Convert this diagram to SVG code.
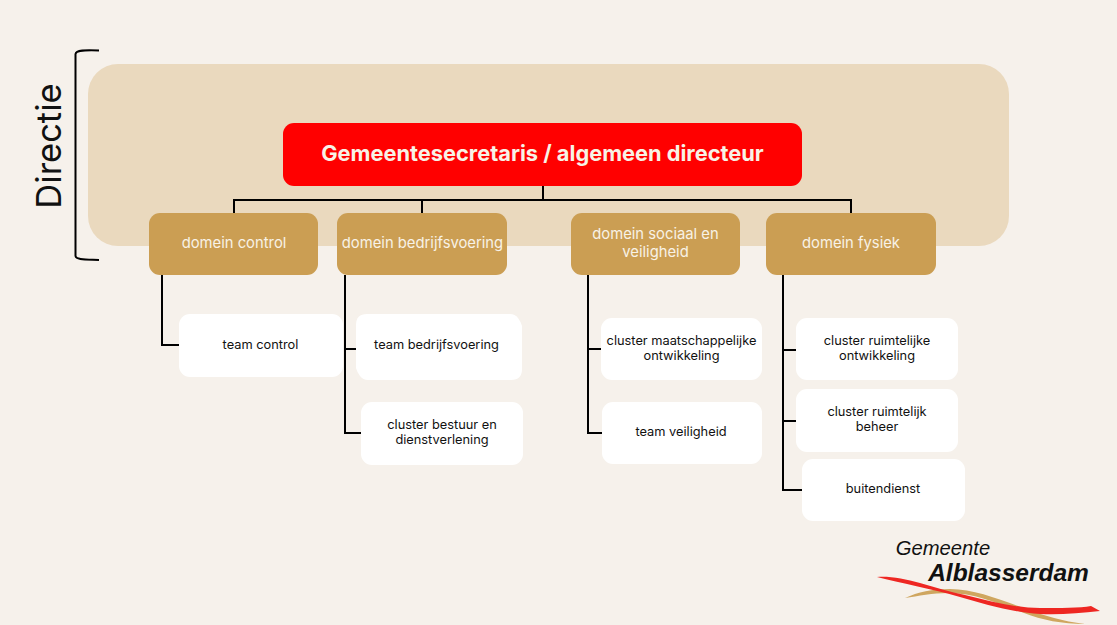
<svg xmlns="http://www.w3.org/2000/svg" width="1117" height="625" viewBox="0 0 1117 625">
<style>
text{font-family:"Inter","Liberation Sans",sans-serif;text-anchor:middle}
.dom rect{fill:#cb9e53}
.dom text{fill:#f8f2e6;font-size:14.8px}
.team rect,.team path{fill:#fff}
.team text{fill:#111;font-size:12.8px}
.logo-text{font-family:"Liberation Sans",sans-serif;font-style:italic;fill:#111}
.c{fill:none;stroke:#000;stroke-width:2}
</style>
<rect width="1117" height="625" fill="#f6f1eb"/>
<rect id="directie-band" x="88" y="64" width="921" height="182" rx="30" fill="#ead9be"/>
<g id="connectors">
<path class="c" d="M543 186V199M234 213V200H851V213M422 200V213"/>
<path class="c" d="M162 275V345H180"/>
<path class="c" d="M345 275V433H362M345 349H356"/>
<path class="c" d="M588 275V433H603M588 349H602"/>
<path class="c" d="M783 275V490H803M783 350H797M783 421H797"/>
<path class="c" d="M99 50.500C85 50 76 50 75.500 54V256C76 260 85 259.500 99 260"/>
</g>
<g id="label-directie"><text transform="translate(60.500 146) rotate(-90)" font-size="34.500" fill="#111">Directie</text></g>
<g id="node-gs"><rect x="283" y="123" width="519" height="63" rx="11" fill="#f00"/><text x="542.500" y="161" font-size="21.800" font-weight="700" fill="#f8f2e6">Gemeentesecretaris / algemeen directeur</text></g>
<g id="node-control" class="dom"><rect x="149" y="213" width="169" height="62" rx="11"/><text x="234" y="248">domein control</text></g>
<g id="node-bedrijfsvoering" class="dom"><rect x="337" y="213" width="170" height="62" rx="11"/><text x="422.500" y="248">domein bedrijfsvoering</text></g>
<g id="node-sociaal" class="dom"><rect x="571" y="213" width="169" height="62" rx="11"/><text x="655.500" y="239">domein sociaal en</text><text x="655.500" y="257">veiligheid</text></g>
<g id="node-fysiek" class="dom"><rect x="766" y="213" width="170" height="62" rx="11"/><text x="851" y="248">domein fysiek</text></g>
<g id="team-control" class="team"><rect x="179" y="314" width="164" height="63" rx="11"/><text x="260.500" y="349">team control</text></g>
<g id="team-bedrijfsvoering" class="team"><path d="M367 314H510Q515 314 518 318T522 326V369Q522 380 511 380H368Q363 380 360 376T356 368V325Q356 314 367 314Z"/><text x="436.500" y="349">team bedrijfsvoering</text></g>
<g id="cluster-bestuur" class="team"><rect x="361" y="402" width="162" height="63" rx="11"/><text x="442" y="429">cluster bestuur en</text><text x="442" y="444">dienstverlening</text></g>
<g id="cluster-maatschappelijk" class="team"><rect x="601" y="318" width="161" height="62" rx="11"/><text x="681.500" y="345">cluster maatschappelijke</text><text x="681.500" y="360">ontwikkeling</text></g>
<g id="team-veiligheid" class="team"><rect x="602" y="402" width="160" height="62" rx="11"/><text x="681" y="436">team veiligheid</text></g>
<g id="cluster-ontwikkeling" class="team"><rect x="796" y="318" width="162" height="62" rx="11"/><text x="877" y="345">cluster ruimtelijke</text><text x="877" y="360">ontwikkeling</text></g>
<g id="cluster-beheer" class="team"><rect x="796" y="389" width="162" height="63" rx="11"/><text x="877" y="416">cluster ruimtelijk</text><text x="877" y="431">beheer</text></g>
<g id="buitendienst" class="team"><rect x="802" y="459" width="163" height="62" rx="11"/><text x="883" y="493">buitendienst</text></g>
<g id="logo">
<path d="M905 598C918 592 932 589 950 589C975 589 1000 600 1027 609C1045 616 1062 621 1085 624C1062 624 1042 620 1024 613C1000 604 975 593 948 593C933 593 918 596 905 598Z" fill="#cfa65f"/>
<path d="M877 577C890 576 905 579 920 583C935 587 950 592 965 595C990 601 1015 608 1040 608C1060 608 1080 608 1091 606L1100 611C1080 613 1060 615 1040 614C1010 612 985 604 960 597C932 589 900 583 877 577Z" fill="#ee2722"/>
<text class="logo-text" x="943" y="555" font-size="20.200">Gemeente</text>
<text class="logo-text" x="1008.500" y="581" font-size="24.500" font-weight="700">Alblasserdam</text>
</g>
</svg>
